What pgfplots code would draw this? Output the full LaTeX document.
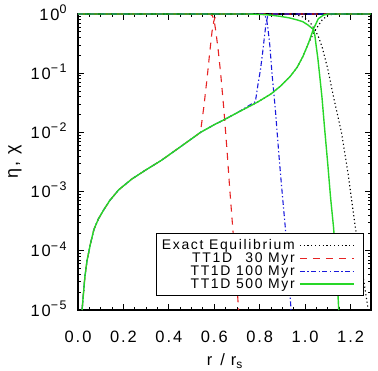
\documentclass[border=0pt]{standalone}
\usepackage{fontspec}
\setmainfont{Liberation Sans}[LetterSpace=12]
\usepackage{pgfplots}
\pgfplotsset{compat=1.18}

\definecolor{cgreen}{RGB}{40,215,40}
\definecolor{cred}{RGB}{230,35,35}
\definecolor{cblue}{RGB}{25,25,220}

\newcommand\tickfont{\fontsize{16.5}{16.5}\selectfont}
\newcommand\legfont{\fontsize{14}{14}\selectfont}
\newcommand\pw[1]{10\raisebox{6.8bp}{\fontsize{12.5}{12.5}\selectfont #1}}

\begin{document}
\begin{tikzpicture}
\begin{axis}[
  at={(0,0)}, anchor=south west,
  scale only axis, width=293bp, height=296bp,
  xmin=0, xmax=1.29, ymin=1e-5, ymax=1,
  ymode=log, clip=false,
  xtick={0,0.2,0.4,0.6,0.8,1.0,1.2},
  xticklabels={0.0,0.2,0.4,0.6,0.8,1.0,1.2},
  minor x tick num=3,
  ytick={1e-5,1e-4,1e-3,1e-2,1e-1,1},
  yticklabels={\pw{−5},\pw{−4},\pw{−3},\pw{−2},\pw{−1},\pw{0}},
  minor ytick={2e-5,3e-5,4e-5,5e-5,6e-5,7e-5,8e-5,9e-5,
               2e-4,3e-4,4e-4,5e-4,6e-4,7e-4,8e-4,9e-4,
               2e-3,3e-3,4e-3,5e-3,6e-3,7e-3,8e-3,9e-3,
               2e-2,3e-2,4e-2,5e-2,6e-2,7e-2,8e-2,9e-2,
               0.2,0.3,0.4,0.5,0.6,0.7,0.8,0.9},
  tick align=inside, tick pos=both,
  major tick length=6bp, minor tick length=3.5bp,
  every tick/.style={black, line width=0.9bp},
  axis line style={line width=1.1bp},
  xticklabel style={font=\tickfont, yshift=-17bp},
  yticklabel style={font=\tickfont, anchor=base east, yshift=-6bp, xshift=-8bp},
  xlabel={r\hspace{0.5em}/\hspace{0.35em}r\raisebox{-3.5bp}{\fontsize{12}{12}\selectfont s}},
  xlabel style={font=\fontsize{16.5}{16.5}\selectfont, at={(axis description cs:0.5,0)}, anchor=base, yshift=-55bp},
  ylabel={η, χ},
  ylabel style={font=\fontsize{18}{18}\selectfont, at={(axis description cs:0,0.5)}, anchor=center, yshift=63bp},
  legend style={at={(0.976,0.047)}, anchor=south east, draw=black, line width=0.9bp,
    font=\legfont, inner xsep=4bp, inner ysep=4.5bp, row sep=-1.5bp, column sep=3bp,
    nodes={inner sep=1.5bp}},
  legend cell align=right,
  legend plot pos=right,
  legend image code/.code={\draw[#1, line width=1.1bp] (0bp,0bp) -- (54bp,0bp); \path (59bp,0bp);},
]

% exact equilibrium: ionised and neutral fractions
\addplot[black, line width=1.1bp, dash pattern=on 1.2bp off 2.6bp] coordinates {
  (0,1) (0.92,1) (0.96,0.977) (0.99,0.891) (1.02,0.741) (1.045,0.525) (1.06,0.40)
  (1.075,0.275) (1.10,0.117) (1.125,0.0398) (1.16,0.01) (1.19,0.00191)
  (1.22,2.63e-4) (1.25,5.01e-5) (1.278,1e-5)};
\addlegendentry{Exact Equilibrium}
\addplot[black, line width=1.1bp, dash pattern=on 1.2bp off 2.6bp, forget plot] coordinates {
  (0.018,1e-5) (0.03,3.55e-5) (0.04,6.92e-5) (0.055,1.32e-4) (0.07,2.29e-4)
  (0.09,3.47e-4) (0.113,4.90e-4) (0.14,7.08e-4) (0.179,1.07e-3) (0.236,1.62e-3)
  (0.30,2.34e-3) (0.368,3.39e-3) (0.43,5.01e-3) (0.496,7.59e-3) (0.539,1.0e-2)
  (0.60,1.35e-2) (0.641,1.62e-2) (0.70,2.14e-2) (0.79,3.24e-2) (0.85,4.47e-2)
  (0.891,6.03e-2) (0.935,8.91e-2) (0.965,0.126) (0.99,0.191) (1.014,0.316)
  (1.045,0.537) (1.075,0.794) (1.10,0.955) (1.13,1) (1.29,1)};

% TT1D, 30 Myr
\addplot[cred, line width=1.1bp, dash pattern=on 7bp off 6bp] coordinates {
  (0,1) (0.58,1) (0.592,0.933) (0.60,0.759) (0.607,0.501) (0.617,0.251)
  (0.628,0.1) (0.642,0.0251) (0.657,0.00447) (0.667,0.00126) (0.68,2.82e-4)
  (0.695,5.01e-5) (0.707,1e-5)};
\addlegendentry{TT1D \phantom{1}30 Myr}
\addplot[cred, line width=1.1bp, dash pattern=on 7bp off 6bp, forget plot] coordinates {
  (0.018,1e-5) (0.03,3.55e-5) (0.04,6.92e-5) (0.055,1.32e-4) (0.07,2.29e-4)
  (0.09,3.47e-4) (0.113,4.90e-4) (0.14,7.08e-4) (0.179,1.07e-3) (0.236,1.62e-3)
  (0.30,2.34e-3) (0.368,3.39e-3) (0.43,5.01e-3) (0.496,7.59e-3) (0.539,1.0e-2)
  (0.554,0.0269) (0.569,0.0871) (0.58,0.224) (0.59,0.501) (0.598,0.759)
  (0.606,0.933) (0.615,1) (1.29,1)};

% TT1D, 100 Myr
\addplot[cblue, line width=1.1bp, dash pattern=on 5bp off 2.5bp on 1.3bp off 2.5bp] coordinates {
  (0,1) (0.815,1) (0.825,0.912) (0.832,0.741) (0.838,0.501) (0.845,0.282)
  (0.854,0.1) (0.869,0.0240) (0.885,0.00398) (0.895,0.00141) (0.913,2.40e-4)
  (0.926,5.01e-5) (0.938,1e-5)};
\addlegendentry{TT1D 100 Myr}
\addplot[cblue, line width=1.1bp, dash pattern=on 5bp off 2.5bp on 1.3bp off 2.5bp, forget plot] coordinates {
  (0.018,1e-5) (0.03,3.55e-5) (0.04,6.92e-5) (0.055,1.32e-4) (0.07,2.29e-4)
  (0.09,3.47e-4) (0.113,4.90e-4) (0.14,7.08e-4) (0.179,1.07e-3) (0.236,1.62e-3)
  (0.30,2.34e-3) (0.368,3.39e-3) (0.43,5.01e-3) (0.496,7.59e-3) (0.539,1.0e-2)
  (0.60,1.35e-2) (0.641,1.62e-2) (0.70,2.14e-2) (0.781,0.0331) (0.792,0.0631)
  (0.803,0.112) (0.813,0.224) (0.821,0.417) (0.828,0.708) (0.835,0.912)
  (0.845,1) (1.29,1)};

% TT1D, 500 Myr
\addplot[cgreen, line width=1.4bp] coordinates {
  (0,1) (0.75,1) (0.82,0.977) (0.85,0.955) (0.891,0.912) (0.93,0.861)
  (0.965,0.794) (0.99,0.741) (1.014,0.646) (1.036,0.550) (1.043,0.43)
  (1.049,0.282) (1.056,0.178) (1.063,0.1) (1.074,0.0398) (1.085,0.0126)
  (1.10,0.00282) (1.112,7.94e-4) (1.125,2.51e-4) (1.137,6.31e-5)
  (1.144,2.0e-5) (1.148,1e-5)};
\addlegendentry{TT1D 500 Myr}
\addplot[cgreen, line width=1.4bp, forget plot] coordinates {
  (0.018,1e-5) (0.03,3.55e-5) (0.04,6.92e-5) (0.055,1.32e-4) (0.07,2.29e-4)
  (0.09,3.47e-4) (0.113,4.90e-4) (0.14,7.08e-4) (0.179,1.07e-3) (0.236,1.62e-3)
  (0.30,2.34e-3) (0.368,3.39e-3) (0.43,5.01e-3) (0.496,7.59e-3) (0.539,1.0e-2)
  (0.60,1.35e-2) (0.641,1.62e-2) (0.70,2.14e-2) (0.79,3.24e-2) (0.85,4.47e-2)
  (0.891,6.03e-2) (0.935,8.91e-2) (0.965,0.126) (0.99,0.191) (1.014,0.316)
  (1.036,0.550) (1.058,0.832) (1.08,0.955) (1.10,1) (1.29,1)};

\end{axis}
\pgfresetboundingbox
\path[use as bounding box] (-78bp,-61bp) rectangle (300bp,310bp);
\end{tikzpicture}
\end{document}
